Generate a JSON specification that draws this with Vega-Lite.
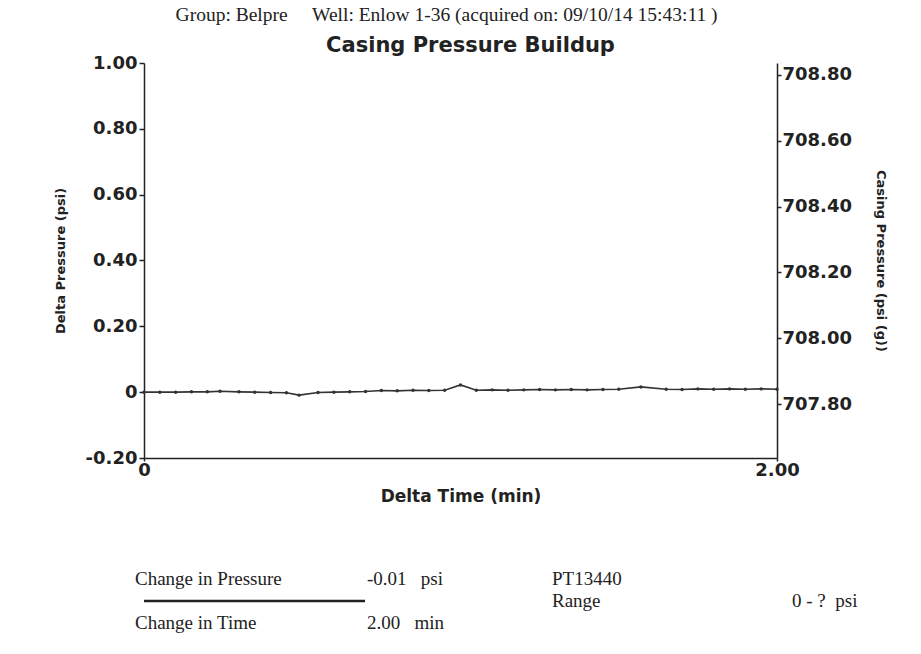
{
  "$schema": "https://vega.github.io/schema/vega-lite/v6.json",
  "padding": {"left": 54, "top": 4, "right": 10, "bottom": 5},
  "background": "white",
  "title": {
    "text": "Group: Belpre\u00a0\u00a0\u00a0\u00a0\u00a0Well: Enlow 1-36 (acquired on: 09/10/14 15:43:11 )",
    "font": "Liberation Serif", "fontSize": 19.5, "fontWeight": "normal", "color": "#222",
    "anchor": "middle", "dx": -35, "offset": 10
  },
  "config": {
    "view": {"stroke": null},
    "axis": {"domainColor": "#222", "tickColor": "#222", "labelColor": "#222", "titleColor": "#222", "grid": false, "domainWidth": 1.5, "tickWidth": 1.5}
  },
  "spacing": 64,
  "vconcat": [
    {
      "width": 633,
      "height": 395,
      "title": {"text": "Casing Pressure Buildup", "font": "DejaVu Sans", "fontSize": 21, "fontWeight": "bold", "color": "#222", "offset": -2, "dx": 10, "anchor": "middle"},
      "data": {"values": [
        {"time": 0.00, "dp": 0.000, "cp": 707.836},
        {"time": 0.05, "dp": 0.000, "cp": 707.836},
        {"time": 0.10, "dp": 0.000, "cp": 707.836},
        {"time": 0.15, "dp": 0.001, "cp": 707.837},
        {"time": 0.20, "dp": 0.001, "cp": 707.837},
        {"time": 0.24, "dp": 0.003, "cp": 707.839},
        {"time": 0.30, "dp": 0.001, "cp": 707.837},
        {"time": 0.35, "dp": 0.000, "cp": 707.836},
        {"time": 0.40, "dp": -0.001, "cp": 707.835},
        {"time": 0.45, "dp": -0.002, "cp": 707.834},
        {"time": 0.49, "dp": -0.009, "cp": 707.827},
        {"time": 0.55, "dp": -0.001, "cp": 707.835},
        {"time": 0.60, "dp": 0.000, "cp": 707.836},
        {"time": 0.65, "dp": 0.001, "cp": 707.837},
        {"time": 0.70, "dp": 0.002, "cp": 707.838},
        {"time": 0.75, "dp": 0.005, "cp": 707.841},
        {"time": 0.80, "dp": 0.004, "cp": 707.840},
        {"time": 0.85, "dp": 0.006, "cp": 707.842},
        {"time": 0.90, "dp": 0.005, "cp": 707.841},
        {"time": 0.95, "dp": 0.006, "cp": 707.842},
        {"time": 1.00, "dp": 0.022, "cp": 707.858},
        {"time": 1.05, "dp": 0.006, "cp": 707.842},
        {"time": 1.10, "dp": 0.007, "cp": 707.843},
        {"time": 1.15, "dp": 0.006, "cp": 707.842},
        {"time": 1.20, "dp": 0.007, "cp": 707.843},
        {"time": 1.25, "dp": 0.008, "cp": 707.844},
        {"time": 1.30, "dp": 0.007, "cp": 707.843},
        {"time": 1.35, "dp": 0.008, "cp": 707.844},
        {"time": 1.40, "dp": 0.007, "cp": 707.843},
        {"time": 1.45, "dp": 0.008, "cp": 707.844},
        {"time": 1.50, "dp": 0.009, "cp": 707.845},
        {"time": 1.57, "dp": 0.016, "cp": 707.852},
        {"time": 1.65, "dp": 0.009, "cp": 707.845},
        {"time": 1.70, "dp": 0.008, "cp": 707.844},
        {"time": 1.75, "dp": 0.010, "cp": 707.846},
        {"time": 1.80, "dp": 0.009, "cp": 707.845},
        {"time": 1.85, "dp": 0.010, "cp": 707.846},
        {"time": 1.90, "dp": 0.009, "cp": 707.845},
        {"time": 1.95, "dp": 0.010, "cp": 707.846},
        {"time": 2.00, "dp": 0.009, "cp": 707.845}
      ]},
      "layer": [
        {
          "mark": {"type": "line", "color": "#333", "strokeWidth": 1.6},
          "encoding": {
            "x": {
              "field": "time", "type": "quantitative",
              "scale": {"domain": [0, 2], "nice": false, "zero": false},
              "axis": {
                "title": "Delta Time (min)", "values": [0, 2],
                "labelExpr": "datum.value == 0 ? '0' : format(datum.value, '.2f')",
                "labelFont": "DejaVu Sans", "labelFontSize": 18, "labelFontWeight": "bold",
                "labelPadding": 0, "tickSize": 3, "labelFlush": false,
                "titleFont": "DejaVu Sans", "titleFontSize": 17, "titleFontWeight": "bold", "titlePadding": 9
              }
            },
            "y": {
              "field": "dp", "type": "quantitative",
              "scale": {"domain": [-0.2, 1.0], "nice": false, "zero": false},
              "axis": {
                "title": "Delta Pressure (psi)", "values": [-0.2, 0, 0.2, 0.4, 0.6, 0.8, 1.0],
                "labelExpr": "datum.value == 0 ? '0' : (datum.value < 0 ? '-' + format(-datum.value, '.2f') : format(datum.value, '.2f'))",
                "labelFont": "DejaVu Sans", "labelFontSize": 18, "labelFontWeight": "bold",
                "labelPadding": 2, "tickSize": 5,
                "titleFont": "DejaVu Sans", "titleFontSize": 13, "titleFontWeight": "bold", "titlePadding": 18
              }
            }
          }
        },
        {
          "mark": {"type": "point", "filled": true, "color": "#333", "size": 12, "opacity": 1},
          "encoding": {
            "x": {"field": "time", "type": "quantitative"},
            "y": {
              "field": "cp", "type": "quantitative",
              "scale": {"domain": [707.636, 708.836], "nice": false, "zero": false},
              "axis": {
                "orient": "right", "title": "Casing Pressure (psi (g))",
                "values": [707.8, 708.0, 708.2, 708.4, 708.6, 708.8], "format": ".2f",
                "labelFont": "DejaVu Sans", "labelFontSize": 18, "labelFontWeight": "bold",
                "labelPadding": 1, "tickSize": 4,
                "titleFont": "DejaVu Sans", "titleFontSize": 13, "titleFontWeight": "bold", "titlePadding": 22
              }
            }
          }
        }
      ],
      "resolve": {"scale": {"y": "independent"}, "axis": {"y": "independent"}}
    },
    {
      "spacing": 0,
      "hconcat": [
        {
          "width": 221, "height": 66,
          "layer": [
            {
              "data": {"values": [{"col": "A", "row": "1", "label": "Change in Pressure"}, {"col": "A", "row": "3", "label": "Change in Time"}]},
              "mark": {"type": "text", "align": "left", "baseline": "middle", "font": "Liberation Serif", "fontSize": 19, "color": "#222", "dx": -9},
              "encoding": {
                "x": {"field": "col", "type": "nominal", "scale": {"type": "band", "paddingInner": 0, "paddingOuter": 0}, "axis": null, "bandPosition": 0},
                "y": {"field": "row", "type": "nominal", "scale": {"type": "point", "domain": ["1", "2", "3"], "padding": 0.5}, "axis": null},
                "text": {"field": "label"}
              }
            },
            {
              "data": {"values": [{"row": "2"}]},
              "mark": {"type": "rule", "color": "#222", "strokeWidth": 2.5},
              "encoding": {
                "y": {"field": "row", "type": "nominal", "scale": {"type": "point", "domain": ["1", "2", "3"], "padding": 0.5}, "axis": null}
              }
            }
          ]
        },
        {
          "width": 185, "height": 66,
          "data": {"values": [{"col": "B", "row": "1", "label": "-0.01\u00a0\u00a0\u00a0psi"}, {"col": "B", "row": "3", "label": "2.00\u00a0\u00a0\u00a0min"}]},
          "mark": {"type": "text", "align": "left", "baseline": "middle", "font": "Liberation Serif", "fontSize": 19, "color": "#222"},
          "encoding": {
            "x": {"field": "col", "type": "nominal", "scale": {"type": "band", "paddingInner": 0, "paddingOuter": 0}, "axis": null, "bandPosition": 0},
            "y": {"field": "row", "type": "nominal", "scale": {"type": "point", "domain": ["1", "2", "3"], "padding": 0.5}, "axis": null},
            "text": {"field": "label"}
          }
        },
        {
          "width": 240, "height": 66,
          "data": {"values": [{"col": "C", "row": "1", "label": "PT13440"}, {"col": "C", "row": "2", "label": "Range"}]},
          "mark": {"type": "text", "align": "left", "baseline": "middle", "font": "Liberation Serif", "fontSize": 19, "color": "#222"},
          "encoding": {
            "x": {"field": "col", "type": "nominal", "scale": {"type": "band", "paddingInner": 0, "paddingOuter": 0}, "axis": null, "bandPosition": 0},
            "y": {"field": "row", "type": "nominal", "scale": {"type": "point", "domain": ["1", "2", "3"], "padding": 0.5}, "axis": null},
            "text": {"field": "label"}
          }
        },
        {
          "width": 117, "height": 66,
          "data": {"values": [{"col": "D", "row": "2", "label": "0 - ?\u00a0\u00a0psi"}]},
          "mark": {"type": "text", "align": "left", "baseline": "middle", "font": "Liberation Serif", "fontSize": 19, "color": "#222"},
          "encoding": {
            "x": {"field": "col", "type": "nominal", "scale": {"type": "band", "paddingInner": 0, "paddingOuter": 0}, "axis": null, "bandPosition": 0},
            "y": {"field": "row", "type": "nominal", "scale": {"type": "point", "domain": ["1", "2", "3"], "padding": 0.5}, "axis": null},
            "text": {"field": "label"}
          }
        }
      ]
    }
  ]
}
